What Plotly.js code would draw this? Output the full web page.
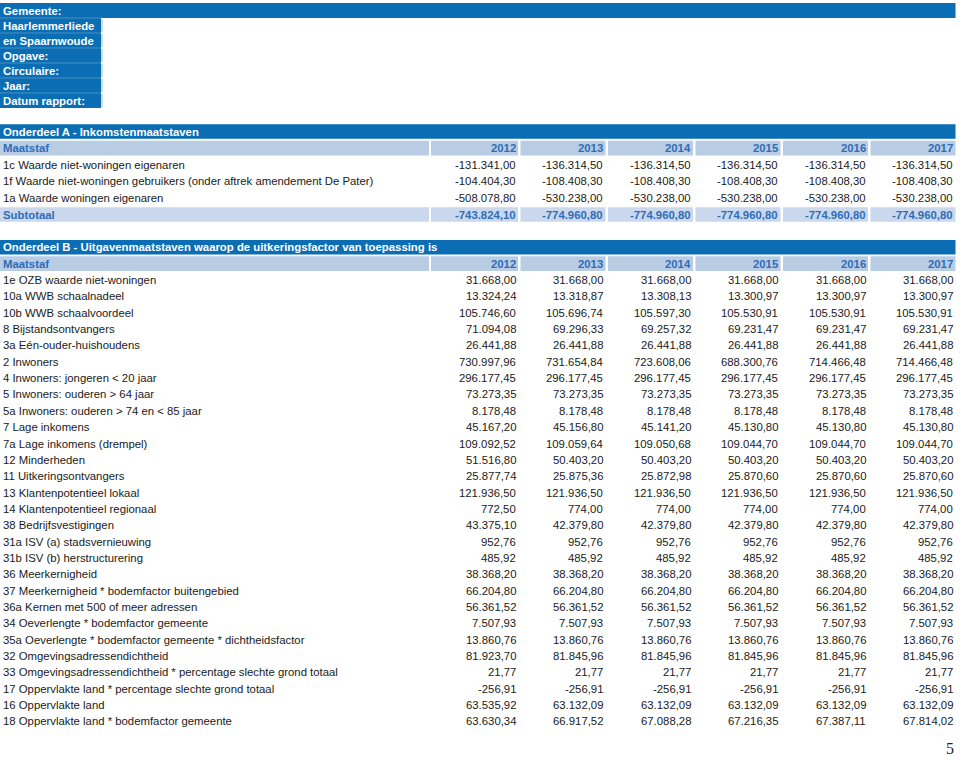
<!DOCTYPE html>
<html>
<head>
<meta charset="utf-8">
<script src="https://cdn.plot.ly/plotly-3.0.1.min.js"></script>
<style>html,body{margin:0;padding:0;background:#fff;}#chart{width:960px;height:760px;}</style>
</head>
<body>
<div id="chart"></div>
<script>
// ---------------- DATA ----------------
const years = [2012, 2013, 2014, 2015, 2016, 2017];

const infoLabels = ["Gemeente:", "Haarlemmerliede", "en Spaarnwoude", "Opgave:", "Circulaire:", "Jaar:", "Datum rapport:"];

const titleA = "Onderdeel A - Inkomstenmaatstaven";
const titleB = "Onderdeel B - Uitgavenmaatstaven waarop de uitkeringsfactor van toepassing is";
const headerLabel = "Maatstaf";
const subtotalLabel = "Subtotaal";
const pageNumber = "5";

const labelsA = [
  "1c Waarde niet-woningen eigenaren",
  "1f Waarde niet-woningen gebruikers (onder aftrek amendement De Pater)",
  "1a Waarde woningen eigenaren"
];
const valuesA = [
  [-131341.00, -136314.50, -136314.50, -136314.50, -136314.50, -136314.50],
  [-104404.30, -108408.30, -108408.30, -108408.30, -108408.30, -108408.30],
  [-508078.80, -530238.00, -530238.00, -530238.00, -530238.00, -530238.00]
];
const subtotalA = [-743824.10, -774960.80, -774960.80, -774960.80, -774960.80, -774960.80];

const labelsB = [
  "1e OZB waarde niet-woningen",
  "10a WWB schaalnadeel",
  "10b WWB schaalvoordeel",
  "8 Bijstandsontvangers",
  "3a Eén-ouder-huishoudens",
  "2 Inwoners",
  "4 Inwoners: jongeren < 20 jaar",
  "5 Inwoners: ouderen > 64 jaar",
  "5a Inwoners: ouderen > 74 en < 85 jaar",
  "7 Lage inkomens",
  "7a Lage inkomens (drempel)",
  "12 Minderheden",
  "11 Uitkeringsontvangers",
  "13 Klantenpotentieel lokaal",
  "14 Klantenpotentieel regionaal",
  "38 Bedrijfsvestigingen",
  "31a ISV (a) stadsvernieuwing",
  "31b ISV (b) herstructurering",
  "36 Meerkernigheid",
  "37 Meerkernigheid * bodemfactor buitengebied",
  "36a Kernen met 500 of meer adressen",
  "34 Oeverlengte * bodemfactor gemeente",
  "35a Oeverlengte * bodemfactor gemeente * dichtheidsfactor",
  "32 Omgevingsadressendichtheid",
  "33 Omgevingsadressendichtheid * percentage slechte grond totaal",
  "17 Oppervlakte land * percentage slechte grond totaal",
  "16 Oppervlakte land",
  "18 Oppervlakte land * bodemfactor gemeente"
];
const valuesB = [
  [31668.00, 31668.00, 31668.00, 31668.00, 31668.00, 31668.00],
  [13324.24, 13318.87, 13308.13, 13300.97, 13300.97, 13300.97],
  [105746.60, 105696.74, 105597.30, 105530.91, 105530.91, 105530.91],
  [71094.08, 69296.33, 69257.32, 69231.47, 69231.47, 69231.47],
  [26441.88, 26441.88, 26441.88, 26441.88, 26441.88, 26441.88],
  [730997.96, 731654.84, 723608.06, 688300.76, 714466.48, 714466.48],
  [296177.45, 296177.45, 296177.45, 296177.45, 296177.45, 296177.45],
  [73273.35, 73273.35, 73273.35, 73273.35, 73273.35, 73273.35],
  [8178.48, 8178.48, 8178.48, 8178.48, 8178.48, 8178.48],
  [45167.20, 45156.80, 45141.20, 45130.80, 45130.80, 45130.80],
  [109092.52, 109059.64, 109050.68, 109044.70, 109044.70, 109044.70],
  [51516.80, 50403.20, 50403.20, 50403.20, 50403.20, 50403.20],
  [25877.74, 25875.36, 25872.98, 25870.60, 25870.60, 25870.60],
  [121936.50, 121936.50, 121936.50, 121936.50, 121936.50, 121936.50],
  [772.50, 774.00, 774.00, 774.00, 774.00, 774.00],
  [43375.10, 42379.80, 42379.80, 42379.80, 42379.80, 42379.80],
  [952.76, 952.76, 952.76, 952.76, 952.76, 952.76],
  [485.92, 485.92, 485.92, 485.92, 485.92, 485.92],
  [38368.20, 38368.20, 38368.20, 38368.20, 38368.20, 38368.20],
  [66204.80, 66204.80, 66204.80, 66204.80, 66204.80, 66204.80],
  [56361.52, 56361.52, 56361.52, 56361.52, 56361.52, 56361.52],
  [7507.93, 7507.93, 7507.93, 7507.93, 7507.93, 7507.93],
  [13860.76, 13860.76, 13860.76, 13860.76, 13860.76, 13860.76],
  [81923.70, 81845.96, 81845.96, 81845.96, 81845.96, 81845.96],
  [21.77, 21.77, 21.77, 21.77, 21.77, 21.77],
  [-256.91, -256.91, -256.91, -256.91, -256.91, -256.91],
  [63535.92, 63132.09, 63132.09, 63132.09, 63132.09, 63132.09],
  [63630.34, 66917.52, 67088.28, 67216.35, 67387.11, 67814.02]
];

// ---------------- STYLE / GEOMETRY ----------------
const DARK = "#0b6db3";
const LIGHT = "#b8cce4";
const SUBBG = "#c9d8ec";
const HEADTXT = "#2f6db8";
const TXT = "#1a1a1a";
const FONT = "Liberation Sans, Arial, Helvetica, sans-serif";
const FS = 11.35;

const colRight = years.map((_, i) => 518 + i * 87.5);
const colLeft = colRight.map((r, i) => i === 0 ? 431 : colRight[i - 1] + 2.5);
const labelRight = 429;
const tableRight = colRight[colRight.length - 1];
const barH = 14.6;

const topY0 = 10.5, topPitch = 15, infoCellRight = 101;
const titleAY = 131.5, pitchA = 16.6;
const titleBY = 247.3, pitchB = 16.35;

function fmt(n) {
  const s = Math.abs(n).toFixed(2);
  const parts = s.split(".");
  const ip = parts[0].replace(/\B(?=(\d{3})+(?!\d))/g, ".");
  return (n < 0 ? "-" : "") + ip + "," + parts[1];
}

const shapes = [];
const ann = [];

function rect(x0, x1, yc, h, color) {
  shapes.push({type: "rect", xref: "x", yref: "y", x0: x0, x1: x1, y0: yc - h / 2, y1: yc + h / 2,
    fillcolor: color, line: {width: 0}, layer: "below"});
}
function text(x, y, t, anchor, color, bold, size, family) {
  ann.push({xref: "x", yref: "y", x: x, y: y, text: bold ? "<b>" + t + "</b>" : t, showarrow: false,
    xanchor: anchor, yanchor: "middle", borderpad: 0,
    font: {family: family || FONT, size: size || FS, color: color}});
}

// ---- info block
infoLabels.forEach((lab, i) => {
  const y = topY0 + i * topPitch;
  rect(0, i === 0 ? tableRight : infoCellRight, y, topPitch, DARK);
  if (i > 0) {
    shapes.push({type: "line", xref: "x", yref: "y", x0: 0, x1: infoCellRight,
      y0: y - topPitch / 2, y1: y - topPitch / 2, line: {color: "rgba(255,255,255,0.25)", width: 1}});
    shapes.push({type: "line", xref: "x", yref: "y", x0: infoCellRight + 1, x1: infoCellRight + 1,
      y0: y - topPitch / 2 + 1, y1: y + topPitch / 2 - 1, line: {color: "#9fb9d8", width: 1}});
  }
  text(2, y, lab, "left", "#ffffff", true);
});

// ---- header rows (title bar + Maatstaf row)
function sectionHeader(title, yTitle, pitch) {
  rect(0, tableRight, yTitle, barH, DARK);
  text(2, yTitle, title, "left", "#ffffff", true);
  const yh = yTitle + pitch;
  rect(0, labelRight, yh, barH, LIGHT);
  text(2, yh, headerLabel, "left", HEADTXT, true);
  years.forEach((yr, j) => {
    rect(colLeft[j], colRight[j], yh, barH, LIGHT);
    text(colRight[j] - 1.5, yh, String(yr), "right", HEADTXT, true);
  });
}
function dataRow(label, vals, y, color, bold) {
  text(2, y, label, "left", color, bold);
  vals.forEach((v, j) => text(colRight[j] - 1.5, y, fmt(v), "right", color, bold));
}

// Section A
sectionHeader(titleA, titleAY, pitchA);
labelsA.forEach((lab, i) => dataRow(lab, valuesA[i], titleAY + (i + 2) * pitchA, TXT, false));
const ySubA = titleAY + (labelsA.length + 2) * pitchA;
rect(0, labelRight, ySubA, barH, SUBBG);
years.forEach((_, j) => rect(colLeft[j], colRight[j], ySubA, barH, SUBBG));
dataRow(subtotalLabel, subtotalA, ySubA, HEADTXT, true);

// Section B
sectionHeader(titleB, titleBY, pitchB);
labelsB.forEach((lab, i) => dataRow(lab, valuesB[i], titleBY + (i + 2) * pitchB, TXT, false));

// page number
text(955, 748, pageNumber, "right", "#222222", false, 16, "Liberation Serif, Times New Roman, serif");

const layout = {
  width: 960, height: 760,
  margin: {l: 0, r: 0, t: 0, b: 0, pad: 0},
  paper_bgcolor: "#ffffff", plot_bgcolor: "#ffffff",
  xaxis: {range: [0, 960], visible: false, fixedrange: true},
  yaxis: {range: [760, 0], visible: false, fixedrange: true},
  showlegend: false,
  shapes: shapes,
  annotations: ann
};

Plotly.newPlot("chart", [{type: "scatter", x: [], y: [], mode: "markers", hoverinfo: "skip"}], layout,
  {staticPlot: true, displayModeBar: false});
</script>
</body>
</html>
